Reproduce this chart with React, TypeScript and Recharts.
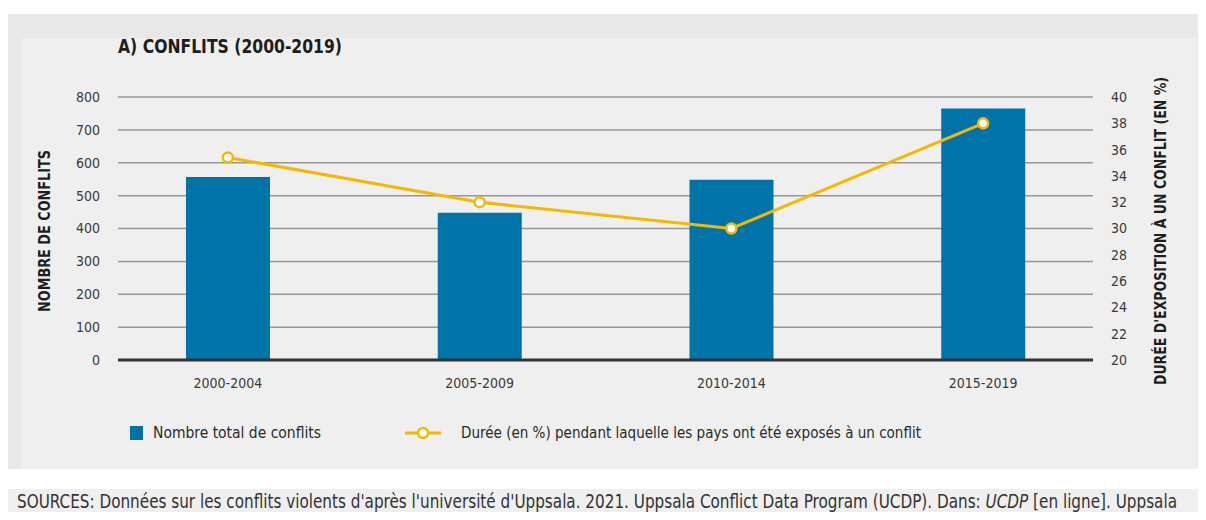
import { ComposedChart, Bar, Line, XAxis, YAxis, CartesianGrid } from 'recharts';

const periodes = ['2000-2004', '2005-2009', '2010-2014', '2015-2019'];
const nombreConflits = [557, 448, 548, 765];
const dureeExposition = [35.4, 32.0, 30.0, 38.0];
const ticksConflits = [0, 100, 200, 300, 400, 500, 600, 700, 800];
const ticksDuree = [20, 22, 24, 26, 28, 30, 32, 34, 36, 38, 40];

const data = periodes.map((periode, i) => ({
  periode,
  conflits: nombreConflits[i],
  duree: dureeExposition[i],
}));

const BLUE = '#0073a8';
const GOLD = '#f5b800';
const FONT = "'DejaVu Sans Condensed', 'DejaVu Sans', sans-serif";

export default function App() {
  const tickStyle = { fill: '#3a3a3a', fontSize: 14, fontFamily: FONT, fontStretch: 'condensed' };

  return (
    <div style={{ position: 'relative', width: 1206, height: 520, margin: -8, background: '#fff', overflow: 'hidden' }}>
      {/* fonds */}
      <div style={{ position: 'absolute', left: 8, top: 14, width: 1198, height: 455, background: '#e8e8e8' }} />
      <div style={{ position: 'absolute', left: 22, top: 38, width: 1175, height: 431, background: '#efefef' }} />
      <div style={{ position: 'absolute', left: 8, top: 489, width: 1198, height: 31, background: '#efefef' }} />

      <ComposedChart
        width={1206}
        height={520}
        data={data}
        margin={{ top: 97, right: 0, bottom: 120, left: 0 }}
        style={{ position: 'absolute', left: 0, top: 0 }}
      >
        <CartesianGrid yAxisId="left" vertical={false} stroke="#969696" strokeWidth={1.5} />
        <XAxis
          dataKey="periode"
          height={40}
          padding={{ left: -16, right: -16 }}
          tickLine={false}
          tickSize={0}
          tickMargin={18}
          axisLine={{ stroke: '#333', strokeWidth: 3 }}
          tick={tickStyle}
        />
        <YAxis
          yAxisId="left"
          width={118}
          domain={[0, 800]}
          ticks={ticksConflits}
          axisLine={false}
          tickLine={false}
          tickSize={0}
          tickMargin={18}
          tick={tickStyle}
        />
        <YAxis
          yAxisId="right"
          orientation="right"
          width={113}
          domain={[20, 40]}
          ticks={ticksDuree}
          interval={0}
          axisLine={false}
          tickLine={false}
          tickSize={0}
          tickMargin={18}
          tick={{ ...tickStyle, textAnchor: 'start' }}
        />
        <Bar yAxisId="left" dataKey="conflits" fill={BLUE} barSize={84} isAnimationActive={false} />
        <Line
          yAxisId="right"
          type="linear"
          dataKey="duree"
          stroke={GOLD}
          strokeWidth={3}
          dot={{ r: 5, fill: '#fff', stroke: GOLD, strokeWidth: 2.5 }}
          isAnimationActive={false}
        />
      </ComposedChart>

      <svg width={1206} height={520} style={{ position: 'absolute', left: 0, top: 0, pointerEvents: 'none' }}>
        <text x={118} y={53} fontFamily={FONT} fontWeight="bold" fontSize={19} fill="#1e1e1e" textLength={224} lengthAdjust="spacingAndGlyphs">
          A) CONFLITS (2000-2019)
        </text>
        <text
          transform="translate(50 231) rotate(-90)"
          textAnchor="middle"
          fontFamily={FONT}
          fontWeight="bold"
          fontSize={15}
          fill="#1e1e1e"
          textLength={162}
          lengthAdjust="spacingAndGlyphs"
        >
          NOMBRE DE CONFLITS
        </text>
        <text
          transform="translate(1166 231) rotate(-90)"
          textAnchor="middle"
          fontFamily={FONT}
          fontWeight="bold"
          fontSize={15}
          fill="#1e1e1e"
          textLength={308}
          lengthAdjust="spacingAndGlyphs"
        >
          DURÉE D'EXPOSITION À UN CONFLIT (EN %)
        </text>

        {/* légende */}
        <rect x={130} y={426} width={13} height={14} fill={BLUE} />
        <text x={153} y={438} fontFamily={FONT} fontSize={15} fill="#2a2a2a" textLength={168} lengthAdjust="spacingAndGlyphs">
          Nombre total de conflits
        </text>
        <line x1={405} y1={433} x2={441} y2={433} stroke={GOLD} strokeWidth={3} />
        <circle cx={423} cy={433} r={5} fill="#fff" stroke={GOLD} strokeWidth={2.5} />
        <text x={461} y={438} fontFamily={FONT} fontSize={15} fill="#2a2a2a" textLength={460} lengthAdjust="spacingAndGlyphs">
          Durée (en %) pendant laquelle les pays ont été exposés à un conflit
        </text>

        {/* sources */}
        <g transform="translate(17 508) scale(0.847 1)">
          <text x={0} y={0} fontFamily={FONT} fontSize={20} fill="#333">
            SOURCES: Données sur les conflits violents d'après l'université d'Uppsala. 2021. Uppsala Conflict Data Program (UCDP). Dans:{' '}
            <tspan fontStyle="italic">UCDP</tspan> [en ligne]. Uppsala
          </text>
        </g>
      </svg>
    </div>
  );
}
